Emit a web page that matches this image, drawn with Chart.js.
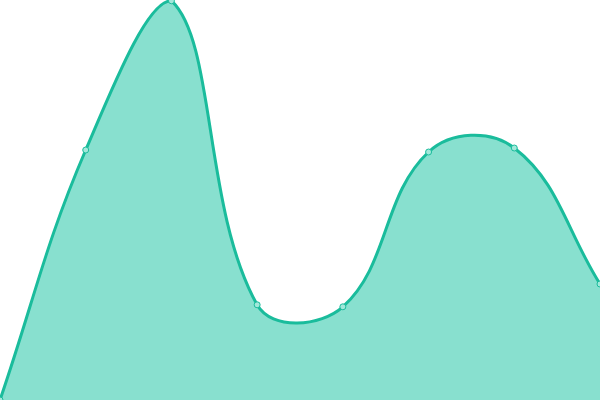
<!DOCTYPE html>
<html>
<head>
<meta charset="utf-8">
<script src="https://cdn.jsdelivr.net/npm/chart.js@4"></script>
<style>
html, body { margin: 0; padding: 0; background: #fff; }
#wrap { width: 600px; height: 400px; }
</style>
</head>
<body>
<div id="wrap"><canvas id="areaChart"></canvas></div>
<script>
// data (y axis 0..100, hidden)
var labels = ["1", "2", "3", "4", "5", "6", "7", "8"];
var values = [0, 62.5, 99.8, 23.8, 23.3, 62, 63, 29];

var ctx = document.getElementById('areaChart').getContext('2d');
var chart = new Chart(ctx, {
    type: 'line',
    data: {
        labels: labels,
        datasets: [{
            data: values,
            fill: true,
            backgroundColor: 'rgba(17,193,159,0.5)',
            borderColor: '#1abc9c',
            borderWidth: 3,
            tension: 0.4,
            pointRadius: 3,
            pointBorderWidth: 1,
            pointBackgroundColor: '#a2e8da',
            pointBorderColor: '#1abc9c'
        }]
    },
    options: {
        responsive: true,
        maintainAspectRatio: false,
        animation: false,
        clip: false,
        layout: { padding: 0, autoPadding: false },
        plugins: {
            legend: { display: false },
            tooltip: { enabled: false }
        },
        scales: {
            x: { display: false },
            y: { display: false, min: 0, max: 100 }
        }
    }
});
</script>
</body>
</html>
